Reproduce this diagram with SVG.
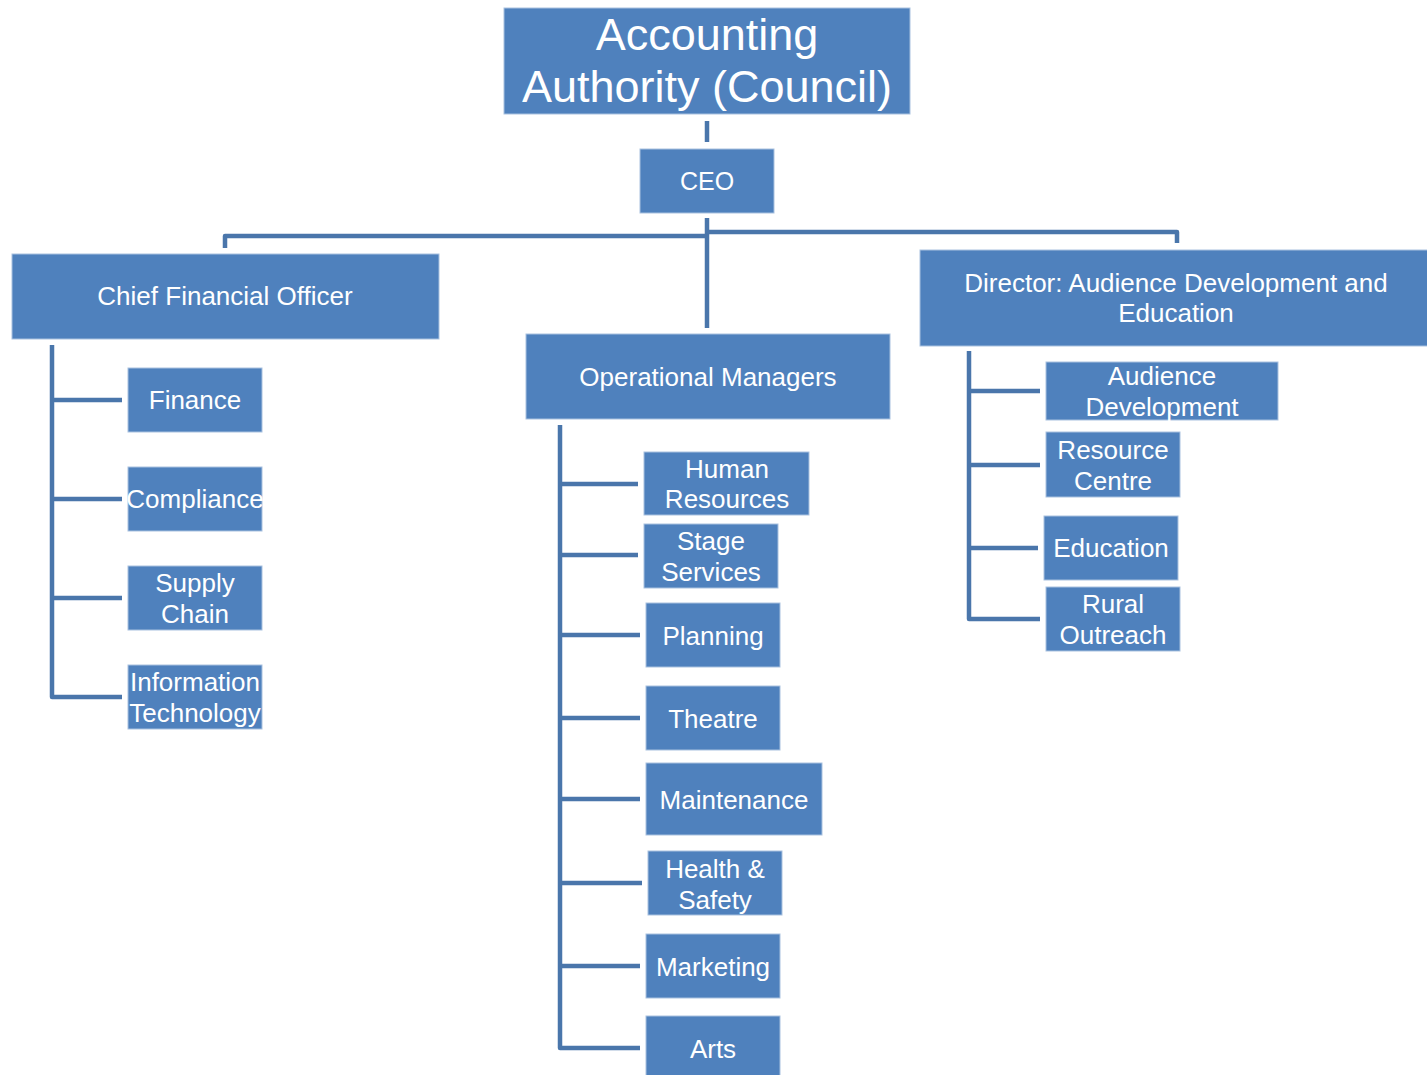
<svg xmlns="http://www.w3.org/2000/svg" width="1427" height="1075" viewBox="0 0 1427 1075">
<style>
.box{fill:#4F81BD;stroke:#A9C1DF;stroke-width:1}
.t{font-family:"Liberation Sans",Arial,sans-serif;fill:#FFFFFF;text-anchor:middle;font-size:26px}
.conn{stroke:#4A76AB;stroke-width:4.5;fill:none;stroke-linejoin:round}
</style>
<rect width="1427" height="1075" fill="#FFFFFF"/>
<g id="connectors">
<path class="conn" d="M707,121 V142"/>
<path class="conn" d="M707,218 V328"/>
<path class="conn" d="M225,248 V236 H707"/>
<path class="conn" d="M707,232 H1177 V243"/>
<path class="conn" d="M52,345 V697 H122 M52,400 H122 M52,499 H122 M52,598 H122"/>
<path class="conn" d="M560,425 V1048 H640 M560,484 H638 M560,555 H638 M560,635 H640 M560,718 H640 M560,799 H640 M560,883 H642 M560,966 H640"/>
<path class="conn" d="M969,351 V619 H1040 M969,391 H1040 M969,465 H1040 M969,548 H1038"/>
</g>
<g id="council"><rect class="box" x="504" y="8" width="406" height="106"/><text class="t" x="707" y="50" style="font-size:45px">Accounting</text><text class="t" x="707" y="102" style="font-size:45px">Authority (Council)</text></g>
<g id="ceo"><rect class="box" x="640" y="149" width="134" height="64"/><text class="t" x="707" y="190" style="font-size:25px">CEO</text></g>
<g id="cfo"><rect class="box" x="12" y="254" width="427" height="85"/><text class="t" x="225" y="305">Chief Financial Officer</text></g>
<g id="opmgr"><rect class="box" x="526" y="334" width="364" height="85"/><text class="t" x="708" y="386">Operational Managers</text></g>
<g id="director"><rect class="box" x="920" y="250" width="510" height="96"/><text class="t" x="1176" y="292">Director: Audience Development and</text><text class="t" x="1176" y="322">Education</text></g>
<g id="finance"><rect class="box" x="128" y="368" width="134" height="64"/><text class="t" x="195" y="409">Finance</text></g>
<g id="compliance"><rect class="box" x="128" y="467" width="134" height="64"/><text class="t" x="195" y="508">Compliance</text></g>
<g id="supply"><rect class="box" x="128" y="566" width="134" height="64"/><text class="t" x="195" y="592">Supply</text><text class="t" x="195" y="623">Chain</text></g>
<g id="it"><rect class="box" x="128" y="665" width="134" height="64"/><text class="t" x="195" y="691">Information</text><text class="t" x="195" y="722">Technology</text></g>
<g id="hr"><rect class="box" x="644" y="452" width="165" height="63"/><text class="t" x="727" y="478">Human</text><text class="t" x="727" y="508">Resources</text></g>
<g id="stage"><rect class="box" x="644" y="524" width="134" height="64"/><text class="t" x="711" y="550">Stage</text><text class="t" x="711" y="581">Services</text></g>
<g id="planning"><rect class="box" x="646" y="603" width="134" height="64"/><text class="t" x="713" y="645">Planning</text></g>
<g id="theatre"><rect class="box" x="646" y="686" width="134" height="64"/><text class="t" x="713" y="728">Theatre</text></g>
<g id="maintenance"><rect class="box" x="646" y="763" width="176" height="72"/><text class="t" x="734" y="809">Maintenance</text></g>
<g id="hs"><rect class="box" x="648" y="851" width="134" height="64"/><text class="t" x="715" y="878">Health &amp;</text><text class="t" x="715" y="909">Safety</text></g>
<g id="marketing"><rect class="box" x="646" y="934" width="134" height="64"/><text class="t" x="713" y="976">Marketing</text></g>
<g id="arts"><rect class="box" x="646" y="1016" width="134" height="64"/><text class="t" x="713" y="1058">Arts</text></g>
<g id="auddev"><rect class="box" x="1046" y="362" width="232" height="58"/><text class="t" x="1162" y="385">Audience</text><text class="t" x="1162" y="416">Development</text></g>
<g id="resource"><rect class="box" x="1046" y="432" width="134" height="65"/><text class="t" x="1113" y="459">Resource</text><text class="t" x="1113" y="490">Centre</text></g>
<g id="education"><rect class="box" x="1044" y="516" width="134" height="64"/><text class="t" x="1111" y="557">Education</text></g>
<g id="rural"><rect class="box" x="1046" y="587" width="134" height="64"/><text class="t" x="1113" y="613">Rural</text><text class="t" x="1113" y="644">Outreach</text></g>
</svg>
